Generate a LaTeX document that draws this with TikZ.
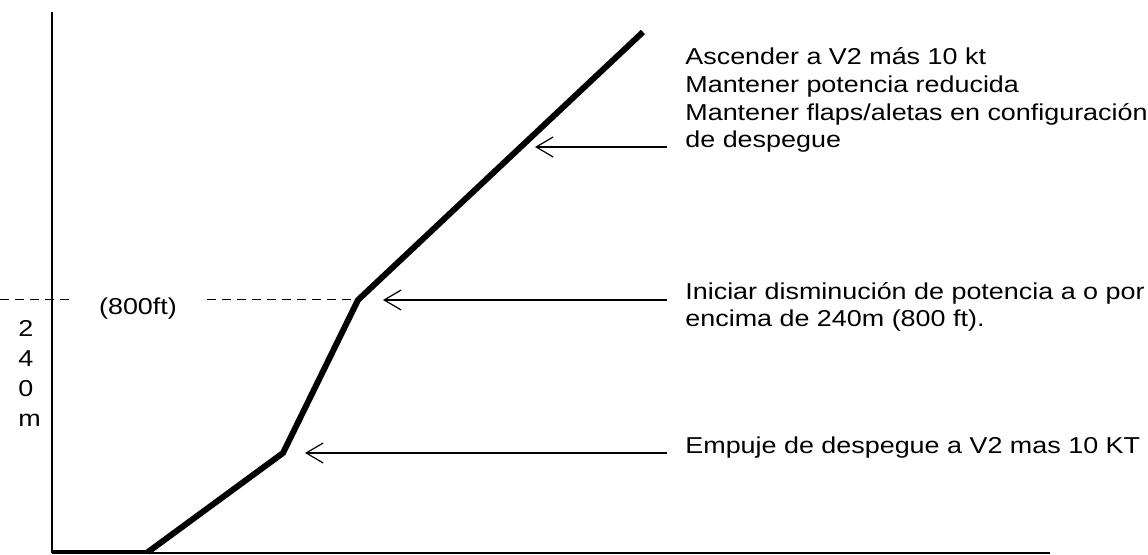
\documentclass[tikz,border=0pt]{standalone}
\usepackage{fontspec}
\setmainfont[FakeStretch=1.17]{Liberation Sans}
\usetikzlibrary{arrows.meta}
\tikzset{
  lbl/.style={font=\fontsize{11.5}{13.85}\selectfont, inner sep=0pt, align=left, anchor=base west},
  callout/.style={-{Straight Barb[length=8.5pt,width=10pt]}, line width=0.6pt},
  climb/.style={line width=3pt, line join=miter},
  level/.style={line width=0.5pt, dash pattern=on 4.5pt off 3pt},
}
\begin{document}
\begin{tikzpicture}[x=0.5pt,y=-0.5pt]
\useasboundingbox (0,0) rectangle (1148,555);
% ejes
\coordinate (O) at (52,553);
\coordinate (top) at (52,12);
\coordinate (xend) at (1050,553);
\coordinate (roll) at (148,552);
\draw [line width=1pt] (top) -- (O);
\draw [line width=0.8pt] (O) -- (xend);
\draw [line width=2pt] (O |- roll) -- (roll);
% trayectoria
\coordinate (k1) at (283,453);
\coordinate (k2) at (358,300);
\coordinate (k3) at (643,32);
\draw [climb] (roll) -- (k1) -- (k2) -- (k3);
% nivel 240 m
\coordinate (d0) at (0,300);
\coordinate (d1) at (72,300);
\coordinate (d2) at (207,300);
\draw [level] (d0) -- (d1);
\draw [level] (d2) -- (k2);
\node [lbl, anchor=base] (ft) at (138,315) {(800ft)};
\node [lbl, font=\fontsize{11.5}{15}\selectfont] (alt) at (18,427) {2\\4\\0\\m};
% notas
\node [lbl] (n1) at (685,148) {Ascender a V2 más 10 kt\\Mantener potencia reducida\\Mantener flaps/aletas en configuración\\de despegue};
\node [lbl] (n2) at (685,327) {Iniciar disminución de potencia a o por\\encima de 240m (800 ft).};
\node [lbl] (n3) at (685,454) {Empuje de despegue a V2 mas 10 KT};
\coordinate (s1) at (667,147);
\coordinate (t1) at (535,147);
\coordinate (s2) at (667,300);
\coordinate (t2) at (383,300);
\coordinate (s3) at (667,453);
\coordinate (t3) at (305,453);
\draw [callout] (s1) -- (t1);
\draw [callout] (s2) -- (t2);
\draw [callout] (s3) -- (t3);
\end{tikzpicture}
\end{document}
